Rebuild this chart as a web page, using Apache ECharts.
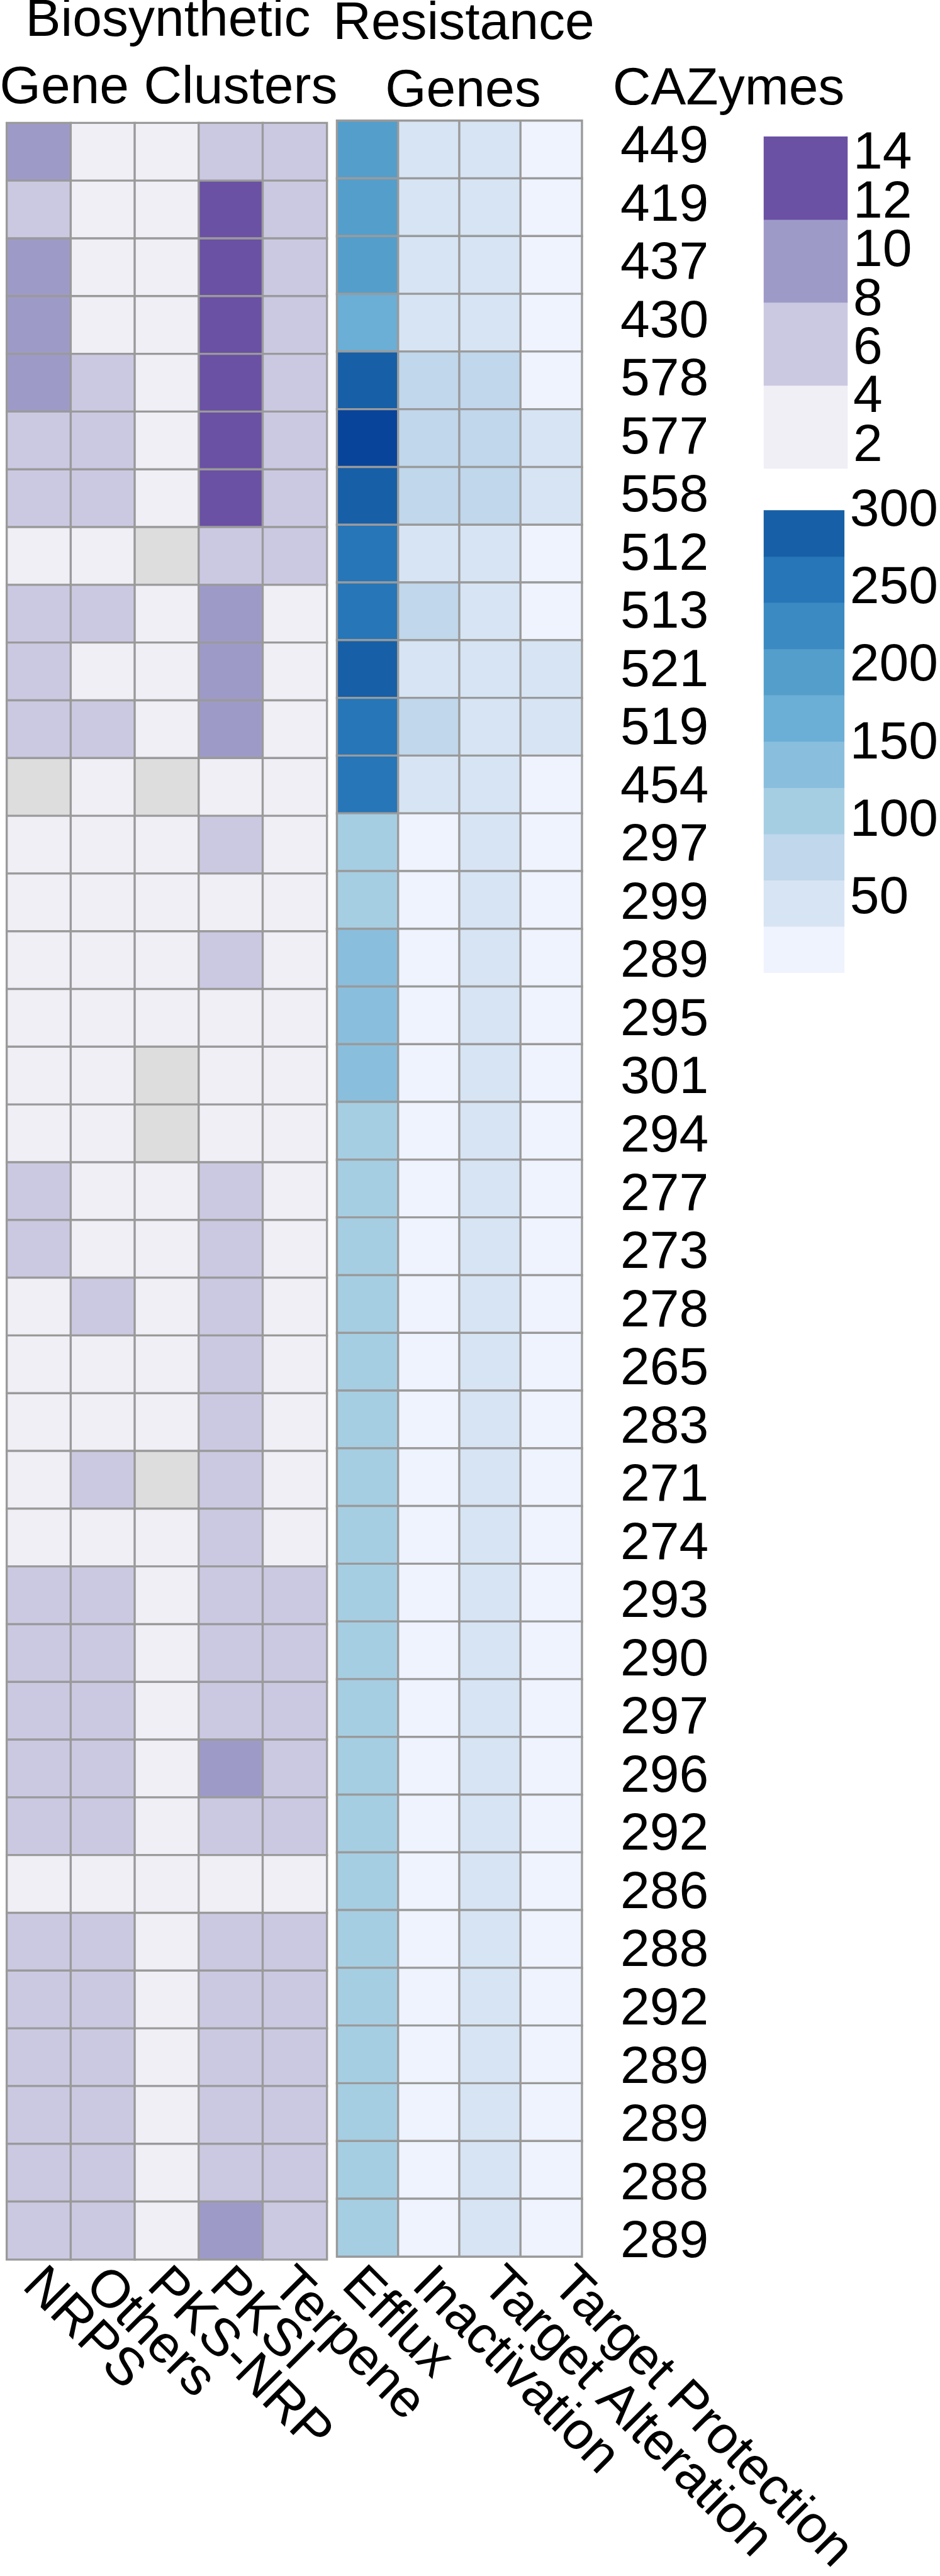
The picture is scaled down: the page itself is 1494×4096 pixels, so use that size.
<!DOCTYPE html>
<html><head><meta charset="utf-8">
<script src="https://cdn.jsdelivr.net/npm/echarts@6/dist/echarts.min.js"></script>
<style>html,body{margin:0;padding:0;background:#fff}#c{width:1494px;height:4096px}</style>
</head><body><div id="c"></div>
<script>
// ---------- data ----------
const clusterCols = ['NRPS', 'Others', 'PKS-NRP', 'PKSI', 'Terpene'];
const geneCols = ['Efflux', 'Inactivation', 'Target Alteration', 'Target Protection'];
const cazymes = ['449','419','437','430','578','577','558','512','513','521','519','454','297','299','289','295','301','294','277','273','278','265','283','271','274','293','290','297','296','292','286','288','292','289','289','288','289'];

// Biosynthetic gene clusters (0 = none, drawn grey)
const nrps    = [9,6,10,9,10,7,6,3,6,7,6,0,2,3,2,3,2,3,5,5,3,2,3,2,3,6,6,5,6,5,3,6,5,6,6,5,6];
const others  = [3,2,3,2,6,5,6,3,5,3,6,2,3,2,3,2,3,2,3,2,6,3,2,5,3,6,5,6,6,5,3,6,6,5,6,6,5];
const pksNrp  = [2,2,3,2,2,3,2,0,2,3,2,0,2,2,3,2,0,0,2,3,2,2,3,0,2,3,2,2,3,2,2,3,2,2,3,2,2];
const pksi    = [6,13,14,13,13,14,13,6,9,10,9,3,5,3,6,3,4,4,6,5,6,5,6,6,5,6,7,6,9,6,4,6,7,6,6,7,9];
const terpene = [6,5,6,6,5,6,6,5,3,4,3,3,3,2,3,3,2,3,4,3,3,2,3,3,3,6,5,6,6,5,3,6,5,6,6,5,6];

// Resistance genes
const efflux     = [195,198,192,170,285,318,290,258,262,282,255,250,105,108,128,132,138,110,104,106,112,100,108,103,107,109,112,106,104,110,101,107,111,105,109,106,103];
const inactivat  = [48,45,50,47,72,75,70,52,68,46,74,44,18,20,15,17,22,19,14,16,21,13,18,20,17,15,19,22,16,18,14,20,17,19,15,21,18];
const targetAlt  = [55,52,56,50,78,80,76,50,54,48,53,49,42,45,40,44,47,43,41,46,44,42,45,43,40,44,46,42,45,41,43,47,44,42,45,43,41];
const targetProt = [12,14,10,13,25,38,42,20,16,40,36,18,8,10,7,9,12,6,11,8,9,10,7,12,8,9,11,6,10,8,9,7,12,10,8,9,11];

// colour scales / legend ticks
const purpleBreaks = [1.09, 4.5, 7.9, 11.31, 14.72];
const purpleColors = ['#f0eff6', '#cbc9e2', '#9e9ac8', '#6a51a3'];
const purpleTicks = [2, 4, 6, 8, 10, 12, 14];
const naColor = '#dddddd';
const blueBreaks = [2.15, 32, 61.8, 91.7, 121.5, 151.3, 181.2, 211, 240.8, 270.7, 300.5, 400];
const blueColors = ['#eef3fd','#d7e4f4','#c0d7ec','#a6cee3','#8abedd','#6baed6','#549ecb','#3c8ac2','#2676b8','#175fa6','#08449a'];
const blueLegendBands = 10;
const blueTicks = [50, 100, 150, 200, 250, 300];

// ---------- build ----------
const FONT = 'Liberation Sans';
const FS = 84;
const clusterSeries = [nrps, others, pksNrp, pksi, terpene];
const geneSeries = [efflux, inactivat, targetAlt, targetProt];
const rowIdx = cazymes.map((_, i) => i);

const clusterData = [];
clusterSeries.forEach((arr, c) => arr.forEach((v, r) => clusterData.push([c, r, v])));
const geneData = [];
geneSeries.forEach((arr, c) => arr.forEach((v, r) => geneData.push([c, r, v])));

const purplePieces = purpleColors.map((col, i) => ({min: purpleBreaks[i], max: purpleBreaks[i + 1], color: col}));
const bluePieces = blueColors.map((col, i) => ({min: blueBreaks[i], max: blueBreaks[i + 1], color: col}));

const purpleLegendData = purpleColors.map((_, i) => [0, i, (purpleBreaks[i] + purpleBreaks[i + 1]) / 2]);
const blueLegendData = [];
for (let i = 0; i < blueLegendBands; i++) blueLegendData.push([0, i, (blueBreaks[i] + blueBreaks[i + 1]) / 2]);

// purple tick labels are closer than their font height: split over two overlaid axes
const purpleTicksA = purpleTicks.filter((_, i) => i % 2 === 0);
const purpleTicksB = purpleTicks.filter((_, i) => i % 2 === 1);

const hidden = {show: false};
const cellStyle = {borderColor: '#9a9a9a', borderWidth: 3.4};
const labelFont = {fontFamily: FONT, fontSize: FS, color: '#000'};
const colLabel = Object.assign({interval: 0, rotate: -45, margin: 28}, labelFont);
const legendLabel = {margin: 9, showMinLabel: true, showMaxLabel: true};

function title(text, x, y) {
  return {type: 'text', x: x, y: y, style: {text: text, fontFamily: FONT, fontSize: FS, fill: '#000', align: 'center', verticalAlign: 'middle'}};
}
function legendValueAxis(grid, min, max, ticks) {
  return {type: 'value', gridIndex: grid, position: 'right', min: min, max: max,
    axisLine: hidden, axisTick: hidden, splitLine: hidden,
    axisLabel: Object.assign({customValues: ticks}, legendLabel, labelFont)};
}

const chart = echarts.init(document.getElementById('c'), null, {renderer: 'canvas'});
chart.setOption({
  animation: false,
  backgroundColor: '#fff',
  grid: [
    {left: 10.9, top: 195.6, width: 508.5, height: 3397},
    {left: 535.7, top: 192, width: 389, height: 3396},
    {left: 978, top: 188.6, width: 2, height: 3423.6},
    {left: 1214, top: 217.3, width: 133, height: 527.6},
    {left: 1214, top: 811.4, width: 133, height: 735.4},
    {left: -28.4, top: 3591.6, width: 523.75, height: 1},
    {left: 501.3, top: 3591.6, width: 445.3, height: 1}
  ],
  xAxis: [
    {type: 'category', gridIndex: 0, data: clusterCols, show: false},
    {type: 'category', gridIndex: 1, data: geneCols, show: false},
    {type: 'category', gridIndex: 2, data: [''], show: false},
    {type: 'category', gridIndex: 3, data: [''], show: false},
    {type: 'category', gridIndex: 4, data: [''], show: false},
    {type: 'category', gridIndex: 5, data: clusterCols, position: 'bottom',
      axisLine: hidden, axisTick: hidden, splitLine: hidden, axisLabel: colLabel},
    {type: 'category', gridIndex: 6, data: geneCols, position: 'bottom',
      axisLine: hidden, axisTick: hidden, splitLine: hidden, axisLabel: colLabel}
  ],
  yAxis: [
    {type: 'category', gridIndex: 0, data: rowIdx, inverse: true, show: false},
    {type: 'category', gridIndex: 1, data: rowIdx, inverse: true, show: false},
    {type: 'category', gridIndex: 2, data: cazymes, inverse: true, position: 'right',
      axisLine: hidden, axisTick: hidden, splitLine: hidden,
      axisLabel: Object.assign({interval: 0, margin: 6}, labelFont)},
    {type: 'category', gridIndex: 3, data: purpleColors.map((_, i) => i), show: false},
    legendValueAxis(3, purpleBreaks[0], purpleBreaks[purpleBreaks.length - 1], purpleTicksA),
    legendValueAxis(3, purpleBreaks[0], purpleBreaks[purpleBreaks.length - 1], purpleTicksB),
    {type: 'category', gridIndex: 4, data: blueLegendData.map((_, i) => i), show: false},
    legendValueAxis(4, blueBreaks[0], blueBreaks[blueLegendBands], blueTicks),
    {type: 'value', gridIndex: 5, show: false},
    {type: 'value', gridIndex: 6, show: false}
  ],
  visualMap: [
    {type: 'piecewise', show: false, seriesIndex: [0, 2], pieces: purplePieces, outOfRange: {color: naColor}},
    {type: 'piecewise', show: false, seriesIndex: [1, 3], pieces: bluePieces, outOfRange: {color: naColor}}
  ],
  series: [
    {type: 'heatmap', xAxisIndex: 0, yAxisIndex: 0, data: clusterData, itemStyle: cellStyle, emphasis: {disabled: true}},
    {type: 'heatmap', xAxisIndex: 1, yAxisIndex: 1, data: geneData, itemStyle: cellStyle, emphasis: {disabled: true}},
    {type: 'heatmap', xAxisIndex: 3, yAxisIndex: 3, data: purpleLegendData, itemStyle: {borderWidth: 0}, emphasis: {disabled: true}},
    {type: 'heatmap', xAxisIndex: 4, yAxisIndex: 6, data: blueLegendData, itemStyle: {borderWidth: 0}, emphasis: {disabled: true}}
  ],
  graphic: [
    title('Biosynthetic', 267, 34),
    title('Resistance', 737, 39),
    title('Gene Clusters', 268, 141),
    title('Genes', 736, 146),
    title('CAZymes', 1158, 143)
  ]
});
</script></body></html>
